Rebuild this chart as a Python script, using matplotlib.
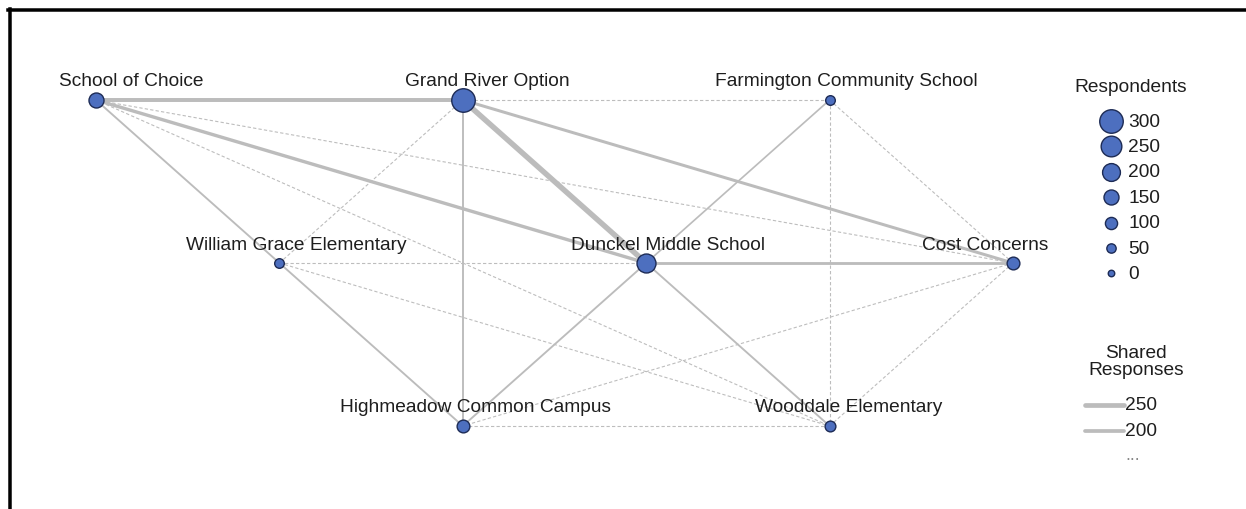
import matplotlib
matplotlib.use("Agg")
import matplotlib.pyplot as plt
from matplotlib.lines import Line2D

plt.rcParams['font.family'] = ['Liberation Sans', 'DejaVu Sans']

# ---- data ----
nodes = ["School of Choice", "Grand River Option", "Farmington Community School",
         "William Grace Elementary", "Dunckel Middle School", "Cost Concerns",
         "Highmeadow Common Campus", "Wooddale Elementary"]
respondents = [150, 300, 55, 55, 220, 110, 110, 75]
# grid layout (column, row)
layout_col = [0, 2, 4, 1, 3, 5, 2, 4]
layout_row = [0, 0, 0, 1, 1, 1, 2, 2]

edge_src = ["School of Choice", "School of Choice", "Grand River Option", "Grand River Option",
            "Dunckel Middle School", "Grand River Option", "William Grace Elementary",
            "School of Choice", "Farmington Community School", "Dunckel Middle School",
            "Dunckel Middle School", "Grand River Option", "School of Choice", "School of Choice",
            "William Grace Elementary", "William Grace Elementary", "William Grace Elementary",
            "Farmington Community School", "Farmington Community School", "Cost Concerns",
            "Cost Concerns", "Highmeadow Common Campus"]
edge_dst = ["Grand River Option", "Dunckel Middle School", "Dunckel Middle School", "Cost Concerns",
            "Cost Concerns", "Highmeadow Common Campus", "Highmeadow Common Campus",
            "William Grace Elementary", "Dunckel Middle School", "Highmeadow Common Campus",
            "Wooddale Elementary", "Farmington Community School", "Cost Concerns",
            "Wooddale Elementary", "Grand River Option", "Dunckel Middle School",
            "Wooddale Elementary", "Wooddale Elementary", "Cost Concerns",
            "Wooddale Elementary", "Highmeadow Common Campus", "Wooddale Elementary"]
shared = [210, 180, 290, 160, 150, 100, 100, 100, 90, 100, 100,
          40, 40, 40, 40, 40, 40, 40, 40, 40, 45, 40]

size_legend_values = [300, 250, 200, 150, 100, 50, 0]
width_legend_values = [250, 200]

# ---- styling helpers ----
W, H = 1246, 509
PX = 0.72  # points per pixel at dpi 100
COL_SP, ROW_SP = 183.4, 163.0
X0, Y0 = 96, 100
NODE_FILL = "#4d6fbf"
NODE_EDGE = "#1d2b55"
EDGE_COL = "#bcbcbc"
TEXT_COL = "#1e1e1e"
FS = 13.8

def diam_px(v):
    return 6.5 + 17 * v / 300.0

def width_px(v):
    return v / 250.0 * 4.7

label_dx = {"School of Choice": 35, "Grand River Option": 25,
            "Farmington Community School": 17, "William Grace Elementary": 17,
            "Dunckel Middle School": 22, "Cost Concerns": -28,
            "Highmeadow Common Campus": 13, "Wooddale Elementary": 19}

fig = plt.figure(figsize=(W / 100, H / 100), dpi=100)
fig.patch.set_facecolor("white")
ax = fig.add_axes([0, 0, 1, 1])
ax.set_xlim(-X0 / COL_SP, (W - X0) / COL_SP)
ax.set_ylim((H - Y0) / ROW_SP, -Y0 / ROW_SP)
ax.axis("off")

pos = {n: (c, r) for n, c, r in zip(nodes, layout_col, layout_row)}

# edges
for s, d, v in zip(edge_src, edge_dst, shared):
    (x1, y1), (x2, y2) = pos[s], pos[d]
    dashed = v < 60
    ax.plot([x1, x2], [y1, y2], color="#bdbdbd" if dashed else EDGE_COL,
            lw=(1.1 if dashed else width_px(v)) * PX,
            linestyle=(0, (3, 2)) if dashed else "-",
            solid_capstyle="butt", zorder=1)

# nodes
for n, v in zip(nodes, respondents):
    x, y = pos[n]
    ax.scatter([x], [y], s=(diam_px(v) * PX) ** 2, color=NODE_FILL,
               edgecolors=NODE_EDGE, linewidths=1.0, zorder=3)
    ax.text(x + label_dx[n] / COL_SP, y - 18 / ROW_SP, n, ha="center", va="center",
            fontsize=FS, color=TEXT_COL, zorder=4)

# legend in pixel coordinates
lg = fig.add_axes([0, 0, 1, 1], facecolor="none")
lg.set_xlim(0, W)
lg.set_ylim(H, 0)
lg.axis("off")

lg.text(1131, 87, "Respondents", ha="center", va="center", fontsize=FS, color=TEXT_COL)
for i, v in enumerate(size_legend_values):
    yy = 121 + i * 25.4
    lg.scatter([1111], [yy], s=(diam_px(v) * PX) ** 2, color=NODE_FILL,
               edgecolors=NODE_EDGE, linewidths=1.0)
    lg.text(1128, yy + 1, str(v), ha="left", va="center", fontsize=FS, color=TEXT_COL)

lg.text(1136, 362, "Shared\nResponses", ha="center", va="center", fontsize=FS,
        color=TEXT_COL, linespacing=0.95)
for i, v in enumerate(width_legend_values):
    yy = 405 + i * 26
    lg.plot([1085, 1124], [yy, yy], color=EDGE_COL, lw=width_px(v) * PX,
            solid_capstyle="round")
    lg.text(1125, yy + 1, str(v), ha="left", va="center", fontsize=FS, color=TEXT_COL)
lg.text(1133, 456, "...", ha="center", va="center", fontsize=FS - 1, color="#888888")

# frame (top and left visible)
lg.add_line(Line2D([8, W], [10, 10], color="black", lw=3.5 * PX))
lg.add_line(Line2D([9.5, 9.5], [8.5, H], color="black", lw=3.5 * PX))

fig.savefig("out.png", dpi=100, facecolor="white")
